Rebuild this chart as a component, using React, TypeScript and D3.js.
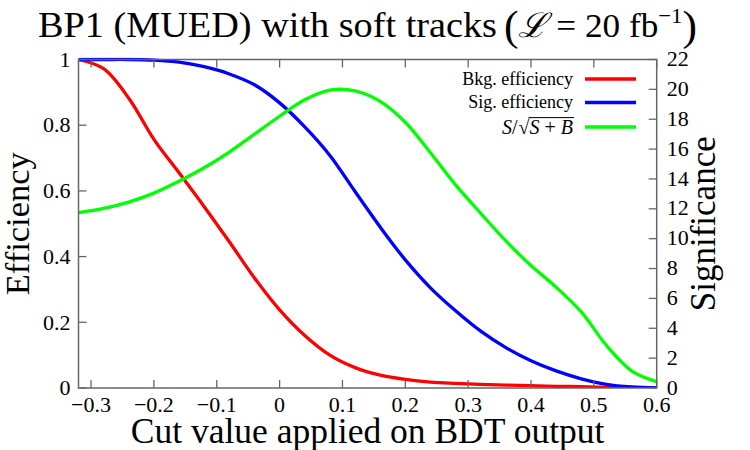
import React, { useLayoutEffect, useRef, useState } from "react";
import * as d3 from "d3";

const cuts = [-0.32, -0.28, -0.24, -0.2, -0.16, -0.12, -0.08, -0.04, 0.0, 0.04, 0.08, 0.12, 0.16, 0.2, 0.24, 0.28, 0.32, 0.36, 0.4, 0.44, 0.48, 0.52, 0.56, 0.6];
const bkgEff = [1.0, 0.972, 0.882, 0.757, 0.655, 0.552, 0.445, 0.335, 0.238, 0.16, 0.1, 0.062, 0.039, 0.026, 0.018, 0.014, 0.011, 0.009, 0.007, 0.005, 0.004, 0.002, 0.001, 0.0];
const sigEff = [1.0, 1.0, 1.0, 0.998, 0.992, 0.978, 0.956, 0.923, 0.868, 0.795, 0.708, 0.598, 0.49, 0.39, 0.305, 0.235, 0.173, 0.123, 0.083, 0.052, 0.028, 0.011, 0.003, 0.0];
const significance = [11.74, 12.03, 12.45, 13.05, 13.85, 14.75, 15.8, 17.0, 18.2, 19.3, 19.95, 19.9, 19.2, 17.8, 15.75, 13.6, 11.7, 9.85, 8.2, 6.75, 5.1, 2.85, 1.15, 0.42];

const cutTicks = [-0.3, -0.2, -0.1, 0, 0.1, 0.2, 0.3, 0.4, 0.5, 0.6];
const cutTickLabels = ["\u22120.3", "\u22120.2", "\u22120.1", "0", "0.1", "0.2", "0.3", "0.4", "0.5", "0.6"];
const effTicks = [0, 0.2, 0.4, 0.6, 0.8, 1];
const effTickLabels = ["0", "0.2", "0.4", "0.6", "0.8", "1"];
const sigTicks = [0, 2, 4, 6, 8, 10, 12, 14, 16, 18, 20, 22];
const sigTickLabels = ["0", "2", "4", "6", "8", "10", "12", "14", "16", "18", "20", "22"];

const legendLabels = ["Bkg. efficiency", "Sig. efficiency"];
const colors = ["#ff0000", "#0000ff", "#00ff00"];

const FONT = "'Liberation Serif', 'DejaVu Serif', serif";

export default function App() {
  const W = 750, H = 450;
  const left = 78.5, right = 656.7, top = 59.5, bottom = 388;
  const x = d3.scaleLinear().domain([-0.32, 0.6]).range([left, right]);
  const yL = d3.scaleLinear().domain([0, 1]).range([bottom, top]);
  const yR = d3.scaleLinear().domain([0, 22]).range([bottom, top]);

  const curve = d3.curveCatmullRom.alpha(0.5);
  const lineL = d3.line<number>().x((_, i) => x(cuts[i])).y((d) => yL(d)).curve(curve);
  const lineR = d3.line<number>().x((_, i) => x(cuts[i])).y((d) => yR(d)).curve(curve);

  const sqrtRef = useRef<SVGTextElement>(null);
  const [ov, setOv] = useState<[number, number, number] | null>(null);
  useLayoutEffect(() => {
    const t = sqrtRef.current;
    if (!t) return;
    const n = t.getNumberOfChars();
    const idx = 3; // char after the radical sign
    const s = t.getStartPositionOfChar(idx).x;
    const e = t.getEndPositionOfChar(n - 1).x;
    const bb = t.getBBox();
    setOv([s - 1, e + 1, bb.y + 2]);
  }, []);

  const axisColor = "#666";
  const tickLen = 8;
  const legendTextX = 573;
  const legendLineX0 = 585, legendLineX1 = 636;
  const legendRows = [79, 102.5, 127];

  return (
    <svg width={W} height={H} style={{ position: "absolute", left: 0, top: 0, background: "#fff" }} fontFamily={FONT}>
      <rect x={0} y={0} width={W} height={H} fill="#fff" />
      {/* title */}
      <text x={38} y={37} textAnchor="start" fontSize={35} fill="#000" textLength={459} lengthAdjust="spacingAndGlyphs">
        BP1 (MUED) with soft tracks
      </text>
      <text x={504} y={37} textAnchor="start" fontSize={34} fill="#000" textLength={193} lengthAdjust="spacingAndGlyphs">
        <tspan fontSize={42} dy={3}>(</tspan>
        <tspan fontStyle="italic" dy={-3}>ℒ</tspan>
        <tspan> = 20 fb</tspan>
        <tspan fontSize={22} dy={-14}>−1</tspan>
        <tspan fontSize={42} dy={17}>)</tspan>
      </text>

      {/* curves */}
      <defs>
        <clipPath id="plotclip">
          <rect x={left} y={top - 2} width={right - left} height={bottom - top + 2} />
        </clipPath>
      </defs>
      <g clipPath="url(#plotclip)" fill="none" strokeWidth={3.3} strokeLinejoin="round">
        <path d={lineL(bkgEff) || ""} stroke={colors[0]} />
        <path d={lineL(sigEff) || ""} stroke={colors[1]} />
        <path d={lineR(significance) || ""} stroke={colors[2]} />
      </g>

      {/* frame */}
      <rect x={left} y={top} width={right - left} height={bottom - top} fill="none" stroke={axisColor} strokeWidth={1.5} />

      {/* x ticks */}
      {cutTicks.map((t, i) => (
        <g key={"xt" + i}>
          <line x1={x(t)} x2={x(t)} y1={bottom} y2={bottom - tickLen} stroke={axisColor} strokeWidth={1.3} />
          <line x1={x(t)} x2={x(t)} y1={top} y2={top + tickLen} stroke={axisColor} strokeWidth={1.3} />
          <text x={x(t)} y={bottom + 24} textAnchor="middle" fontSize={22} fill="#000">
            {cutTickLabels[i]}
          </text>
        </g>
      ))}
      {/* left ticks */}
      {effTicks.map((t, i) => (
        <g key={"yl" + i}>
          <line x1={left} x2={left + tickLen} y1={yL(t)} y2={yL(t)} stroke={axisColor} strokeWidth={1.3} />
          <text x={left - 8} y={yL(t)} dy="0.33em" textAnchor="end" fontSize={22} fill="#000">
            {effTickLabels[i]}
          </text>
        </g>
      ))}
      {/* right ticks */}
      {sigTicks.map((t, i) => (
        <g key={"yr" + i}>
          <line x1={right} x2={right - tickLen} y1={yR(t)} y2={yR(t)} stroke={axisColor} strokeWidth={1.3} />
          <text x={right + 10} y={yR(t)} dy="0.3em" textAnchor="start" fontSize={22} fill="#000">
            {sigTickLabels[i]}
          </text>
        </g>
      ))}

      {/* axis titles */}
      <text x={(left + right) / 2} y={443} textAnchor="middle" fontSize={35.5} fill="#000">
        Cut value applied on BDT output
      </text>
      <text transform={`translate(29,${(top + bottom) / 2}) rotate(-90)`} textAnchor="middle" fontSize={34.5} fill="#000">
        Efficiency
      </text>
      <text transform={`translate(715,${(top + bottom) / 2}) rotate(-90)`} textAnchor="middle" fontSize={35} fill="#000">
        Significance
      </text>

      {/* legend */}
      {legendLabels.map((lab, i) => (
        <g key={"lg" + i}>
          <text x={legendTextX} y={legendRows[i]} dy="0.33em" textAnchor="end" fontSize={18} fill="#000">
            {lab}
          </text>
          <line x1={legendLineX0} x2={legendLineX1} y1={legendRows[i]} y2={legendRows[i]} stroke={colors[i]} strokeWidth={3.5} />
        </g>
      ))}
      <g>
        <text ref={sqrtRef} x={legendTextX} y={legendRows[2]} dy="0.33em" textAnchor="end" fontSize={20} fill="#000">
          <tspan fontStyle="italic">S</tspan>
          <tspan>/</tspan>
          <tspan dx={1}>√</tspan>
          <tspan fontStyle="italic">S</tspan>
          <tspan> + </tspan>
          <tspan fontStyle="italic">B</tspan>
        </text>
        {ov && <line x1={ov[0]} x2={ov[1]} y1={ov[2]} y2={ov[2]} stroke="#000" strokeWidth={1} />}
        <line x1={legendLineX0} x2={legendLineX1} y1={legendRows[2]} y2={legendRows[2]} stroke={colors[2]} strokeWidth={3.5} />
      </g>
    </svg>
  );
}
